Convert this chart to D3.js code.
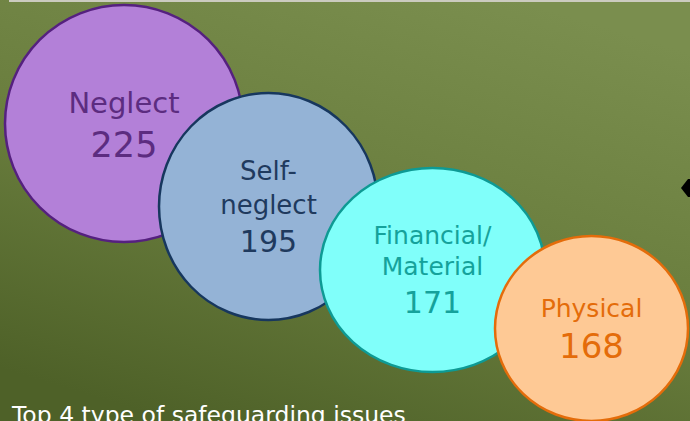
<!DOCTYPE html>
<html>
<head>
<meta charset="utf-8">
<script src="https://cdn.jsdelivr.net/npm/d3@7"></script>
<style>
  html, body { margin: 0; padding: 0; background: #5f7437; }
  svg { display: block; }
</style>
</head>
<body>
<svg id="chart" width="690" height="421"></svg>
<script>
// ---- data ----
const categories = ["Neglect", "Self-neglect", "Financial/Material", "Physical"];
const values = [225, 195, 171, 168];
const labelLines = [["Neglect"], ["Self-", "neglect"], ["Financial/", "Material"], ["Physical"]];
const title = "Top 4 type of safeguarding issues";

// ---- layout / style (not data) ----
const W = 690, H = 421;
const cxScale = d3.scaleOrdinal().domain(categories).range([124, 268.5, 432.5, 591.5]);
const cyScale = d3.scaleOrdinal().domain(categories).range([123.5, 206.5, 270, 328.5]);
const rxScale = d3.scaleOrdinal().domain(categories).range([119, 109.5, 112.5, 96.5]);
const ryScale = d3.scaleOrdinal().domain(categories).range([118.5, 113.5, 102, 92.5]);
const fillScale = d3.scaleOrdinal().domain(categories).range(["#b380d8", "#94b3d6", "#80fffa", "#fec995"]);
const strokeScale = d3.scaleOrdinal().domain(categories).range(["#55207f", "#17375e", "#0e9a94", "#e46c0a"]);
const textScale = d3.scaleOrdinal().domain(categories).range(["#5c2c80", "#1f3a5e", "#15a29b", "#e46c0a"]);
const labelSize = d3.scaleOrdinal().domain(categories).range([29, 26, 25, 25]);
const numSize = d3.scaleOrdinal().domain(categories).range([35, 30, 30, 34]);
// baseline offsets relative to circle centre: first label line, label line step, number
const firstLineOff = d3.scaleOrdinal().domain(categories).range([-10.5, -26.5, -26, -11.5]);
const lineStep = d3.scaleOrdinal().domain(categories).range([0, 34, 31, 0]);
const numOff = d3.scaleOrdinal().domain(categories).range([33.5, 45.5, 43, 29.5]);

const font = "'DejaVu Sans', sans-serif";

const svg = d3.select("#chart");
const defs = svg.append("defs");
const grad = defs.append("linearGradient").attr("id", "bg")
  .attr("x1", "0.75").attr("y1", "0").attr("x2", "0.25").attr("y2", "1");
grad.append("stop").attr("offset", "0").attr("stop-color", "#7a8e4e");
grad.append("stop").attr("offset", "0.5").attr("stop-color", "#6a7e3e");
grad.append("stop").attr("offset", "1").attr("stop-color", "#4e6128");

svg.append("rect").attr("width", W).attr("height", H).attr("fill", "url(#bg)");
// thin light strip at the very top
svg.append("rect").attr("x", 9).attr("y", 0).attr("width", W - 9).attr("height", 2).attr("fill", "#cbcbbf");

// black arrow-tip at the right edge
svg.append("path")
  .attr("d", d3.line()([[681, 188], [688, 179], [690, 179], [690, 197], [688, 197]]) + "Z")
  .attr("fill", "#000");

const data = categories.map((c, i) => ({ cat: c, value: values[i], lines: labelLines[i] }));

const g = svg.selectAll("g.bubble").data(data).join("g").attr("class", "bubble");

g.append("ellipse")
  .attr("cx", d => cxScale(d.cat))
  .attr("cy", d => cyScale(d.cat))
  .attr("rx", d => rxScale(d.cat))
  .attr("ry", d => ryScale(d.cat))
  .attr("fill", d => fillScale(d.cat))
  .attr("stroke", d => strokeScale(d.cat))
  .attr("stroke-width", 2.5);

g.each(function(d) {
  const sel = d3.select(this);
  d.lines.forEach((line, j) => {
    sel.append("text")
      .attr("x", cxScale(d.cat))
      .attr("y", cyScale(d.cat) + firstLineOff(d.cat) + j * lineStep(d.cat))
      .attr("text-anchor", "middle")
      .attr("font-family", font)
      .attr("font-size", labelSize(d.cat))
      .attr("fill", textScale(d.cat))
      .text(line);
  });
  sel.append("text")
    .attr("x", cxScale(d.cat))
    .attr("y", cyScale(d.cat) + numOff(d.cat))
    .attr("text-anchor", "middle")
    .attr("font-family", font)
    .attr("font-size", numSize(d.cat))
    .attr("fill", textScale(d.cat))
    .text(d.value);
});

svg.append("text")
  .attr("x", 12)
  .attr("y", 422.5)
  .attr("font-family", font)
  .attr("font-size", 23.5)
  .attr("fill", "#ffffff")
  .text(title);
</script>
</body>
</html>
